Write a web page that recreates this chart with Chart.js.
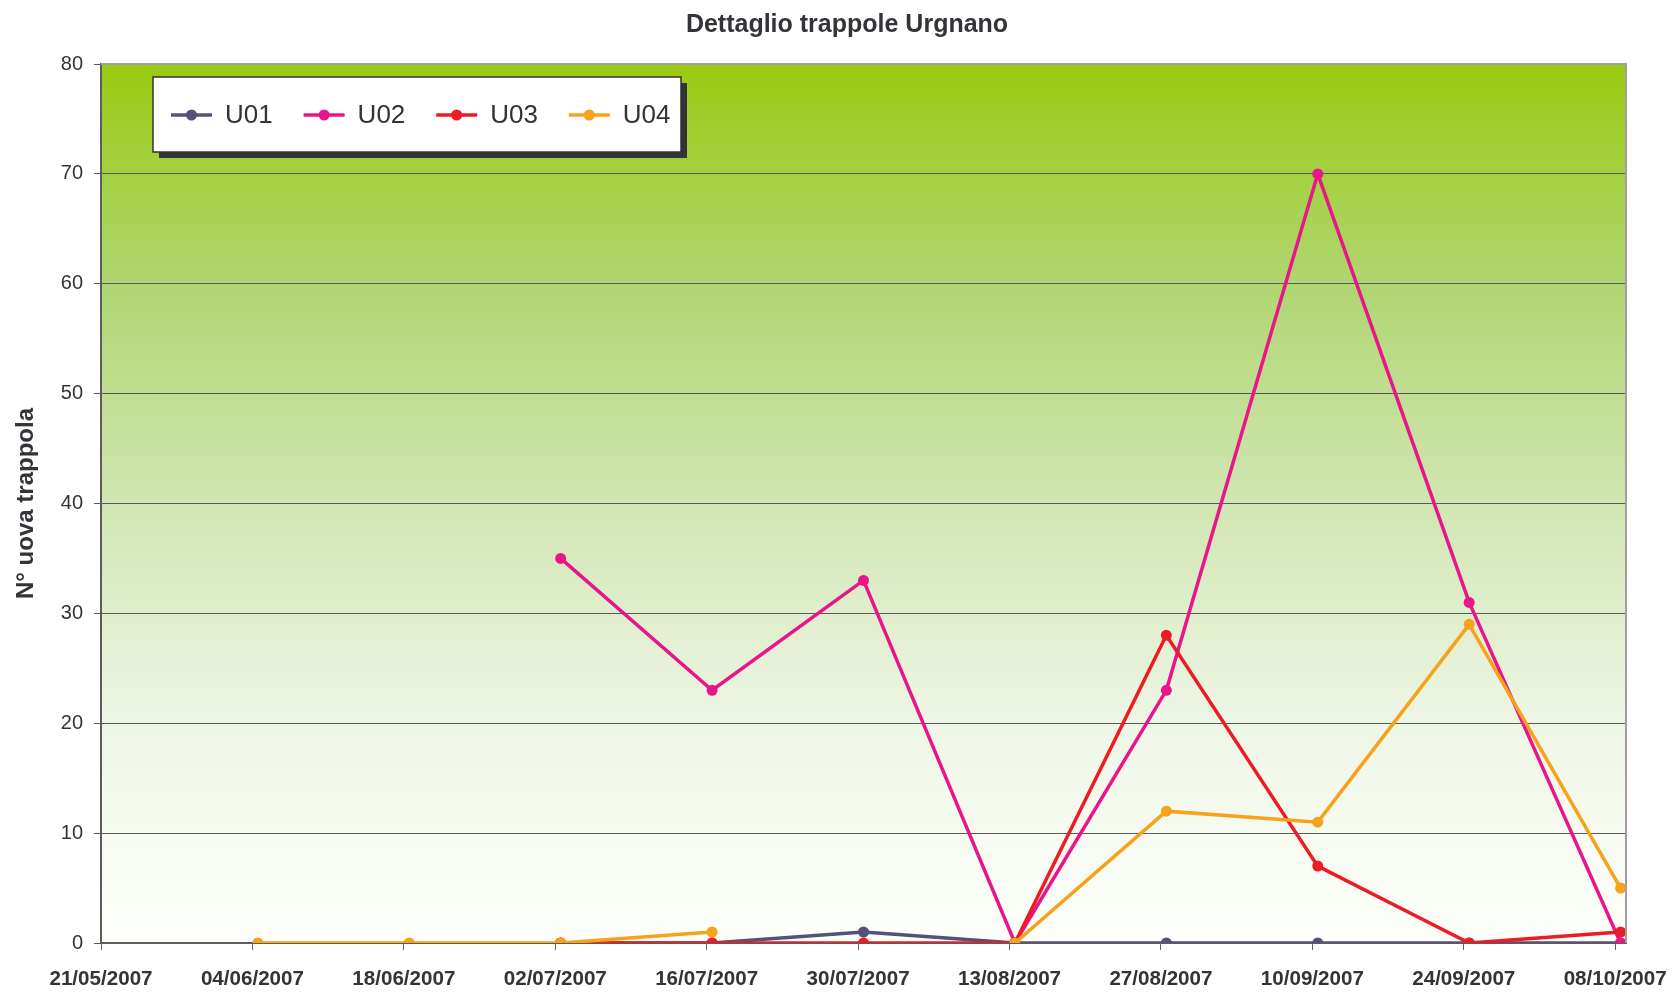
<!DOCTYPE html>
<html>
<head>
<meta charset="utf-8">
<script src="https://cdn.jsdelivr.net/npm/chart.js@4/dist/chart.umd.min.js"></script>
<style>
html,body{margin:0;padding:0;background:#fff;}
canvas{display:block;}
</style>
</head>
<body>
<canvas id="c" width="1677" height="992"></canvas>
<script>
// ---- data ----
const chartTitle = 'Dettaglio trappole Urgnano';
const yTitle = 'N° uova trappola';
const tickLabels = ['21/05/2007','04/06/2007','18/06/2007','02/07/2007','16/07/2007','30/07/2007','13/08/2007','27/08/2007','10/09/2007','24/09/2007','08/10/2007'];
const sampleDates = ['04/06/2007','18/06/2007','02/07/2007','16/07/2007','30/07/2007','13/08/2007','27/08/2007','10/09/2007','24/09/2007','08/10/2007'];
const seriesNames = ['U01','U02','U03','U04'];
const U01 = [null, null, 0, 0, 1, 0, 0, 0, 0, 0];
const U02 = [null, null, 35, 23, 33, 0, 23, 70, 31, 0];
const U03 = [null, null, 0, 0, 0, 0, 28, 7, 0, 1];
const U04 = [0, 0, 0, 1, null, 0, 12, 11, 29, 5];
const seriesColors = ['#55507c', '#e8168a', '#ed1c24', '#f7a21b'];
const yTicks = [0,10,20,30,40,50,60,70,80];

// ---- helpers ----
function dayNum(s){ const [d,m,y] = s.split('/').map(Number); return Date.UTC(y,m-1,d)/86400000; }
const day0 = dayNum(tickLabels[0]);
const tickDays = tickLabels.map(s => dayNum(s) - day0);
const lastDay = tickDays[tickDays.length-1] + 1;
function toPoints(arr){ return sampleDates.map((s,i)=>({x: dayNum(s)-day0+0.5, y: arr[i]})); }
const allSeries = [U01,U02,U03,U04];
const FONT = "'Liberation Sans', Arial, sans-serif";

const bgPlugin = {
  id:'bg',
  beforeDraw(chart){
    const {ctx, chartArea:a} = chart;
    const g = ctx.createLinearGradient(0,a.top,0,a.bottom);
    g.addColorStop(0,'#99cb12');
    g.addColorStop(0.25,'#afd671');
    g.addColorStop(0.5,'#d1e6b2');
    g.addColorStop(0.75,'#eef6e6');
    g.addColorStop(1,'#fefffb');
    ctx.save(); ctx.fillStyle = g; ctx.fillRect(a.left,a.top,a.right-a.left,a.bottom-a.top); ctx.restore();
  },
  afterDraw(chart){
    const {ctx, chartArea:a} = chart;
    ctx.save();
    // plot border top/right
    ctx.strokeStyle = '#a49ca0'; ctx.lineWidth = 2;
    ctx.beginPath(); ctx.moveTo(a.left, a.top); ctx.lineTo(a.right, a.top); ctx.lineTo(a.right, a.bottom); ctx.stroke();
    // title
    ctx.fillStyle = '#333338'; ctx.font = 'bold 25px ' + FONT; ctx.textAlign = 'center'; ctx.textBaseline = 'middle';
    ctx.fillText(chartTitle, 847, 25);
    // legend
    const bx=153, by=77, bw=528, bh=75;
    ctx.fillStyle = '#333338'; ctx.fillRect(bx+6, by+6, bw, bh);
    ctx.fillStyle = '#fff'; ctx.fillRect(bx, by, bw, bh);
    ctx.strokeStyle = '#333'; ctx.lineWidth = 1.5; ctx.strokeRect(bx, by, bw, bh);
    const cy = by + 38;
    chart.data.datasets.forEach((ds,i)=>{
      const lx = 171 + i*132.6;
      ctx.strokeStyle = ds.borderColor; ctx.lineWidth = 3.5;
      ctx.beginPath(); ctx.moveTo(lx, cy); ctx.lineTo(lx+41, cy); ctx.stroke();
      ctx.fillStyle = ds.borderColor; ctx.beginPath(); ctx.arc(lx+20.5, cy, 5.5, 0, Math.PI*2); ctx.fill();
      ctx.fillStyle = '#333338'; ctx.font = '26px ' + FONT; ctx.textAlign = 'left'; ctx.textBaseline = 'middle';
      ctx.fillText(ds.label, lx+54, cy+1);
    });
    ctx.restore();
  }
};

function noPad(s){ s.paddingLeft = 0; s.paddingRight = 0; s.paddingTop = 0; s.paddingBottom = 0; }

new Chart(document.getElementById('c'), {
  type: 'line',
  data: {
    datasets: seriesNames.map((n,i)=>({
      label: n,
      data: toPoints(allSeries[i]),
      borderColor: seriesColors[i],
      backgroundColor: seriesColors[i],
      borderWidth: 3.5,
      pointRadius: 5.5,
      pointBorderWidth: 0,
      pointHoverRadius: 5.5,
      tension: 0,
      spanGaps: false,
      order: 3 - i
    }))
  },
  options: {
    responsive: false,
    animation: false,
    events: [],
    layout: { padding: { top: 64, right: 51, left: 0, bottom: 0 } },
    plugins: { legend: { display: false }, title: { display: false }, tooltip: { enabled: false } },
    scales: {
      x: {
        type: 'linear',
        min: 0, max: lastDay,
        afterFit(s){ s.height = 49; noPad(s); },
        afterBuildTicks(s){ s.ticks = tickDays.map(v=>({value:v})); },
        ticks: {
          autoSkip: false, maxRotation: 0, minRotation: 0, padding: 17,
          color: '#333338', font: { family: FONT, size: 20.6, weight: 'bold' },
          callback: (v) => { const i = tickDays.indexOf(v); return i >= 0 ? tickLabels[i] : ''; }
        },
        grid: { drawOnChartArea: false, drawTicks: true, tickLength: 7, tickColor: '#666', color: '#666' },
        border: { display: true, color: '#605a5c', width: 2 }
      },
      y: {
        min: 0, max: 80,
        afterFit(s){ s.width = 101; noPad(s); },
        afterBuildTicks(s){ s.ticks = yTicks.map(v=>({value:v})); },
        ticks: { padding: 11, color: '#333338', font: { family: FONT, size: 20 } },
        grid: { color: '#5a5a5a', lineWidth: 1, drawTicks: true, tickLength: 7, tickColor: '#5a5a5a' },
        border: { display: true, color: '#605a5c', width: 2 },
        title: { display: true, text: yTitle, color: '#333338', font: { family: FONT, size: 24, weight: 'bold' }, padding: { top: 12, bottom: 0 } }
      }
    }
  },
  plugins: [bgPlugin]
});
</script>
</body>
</html>
